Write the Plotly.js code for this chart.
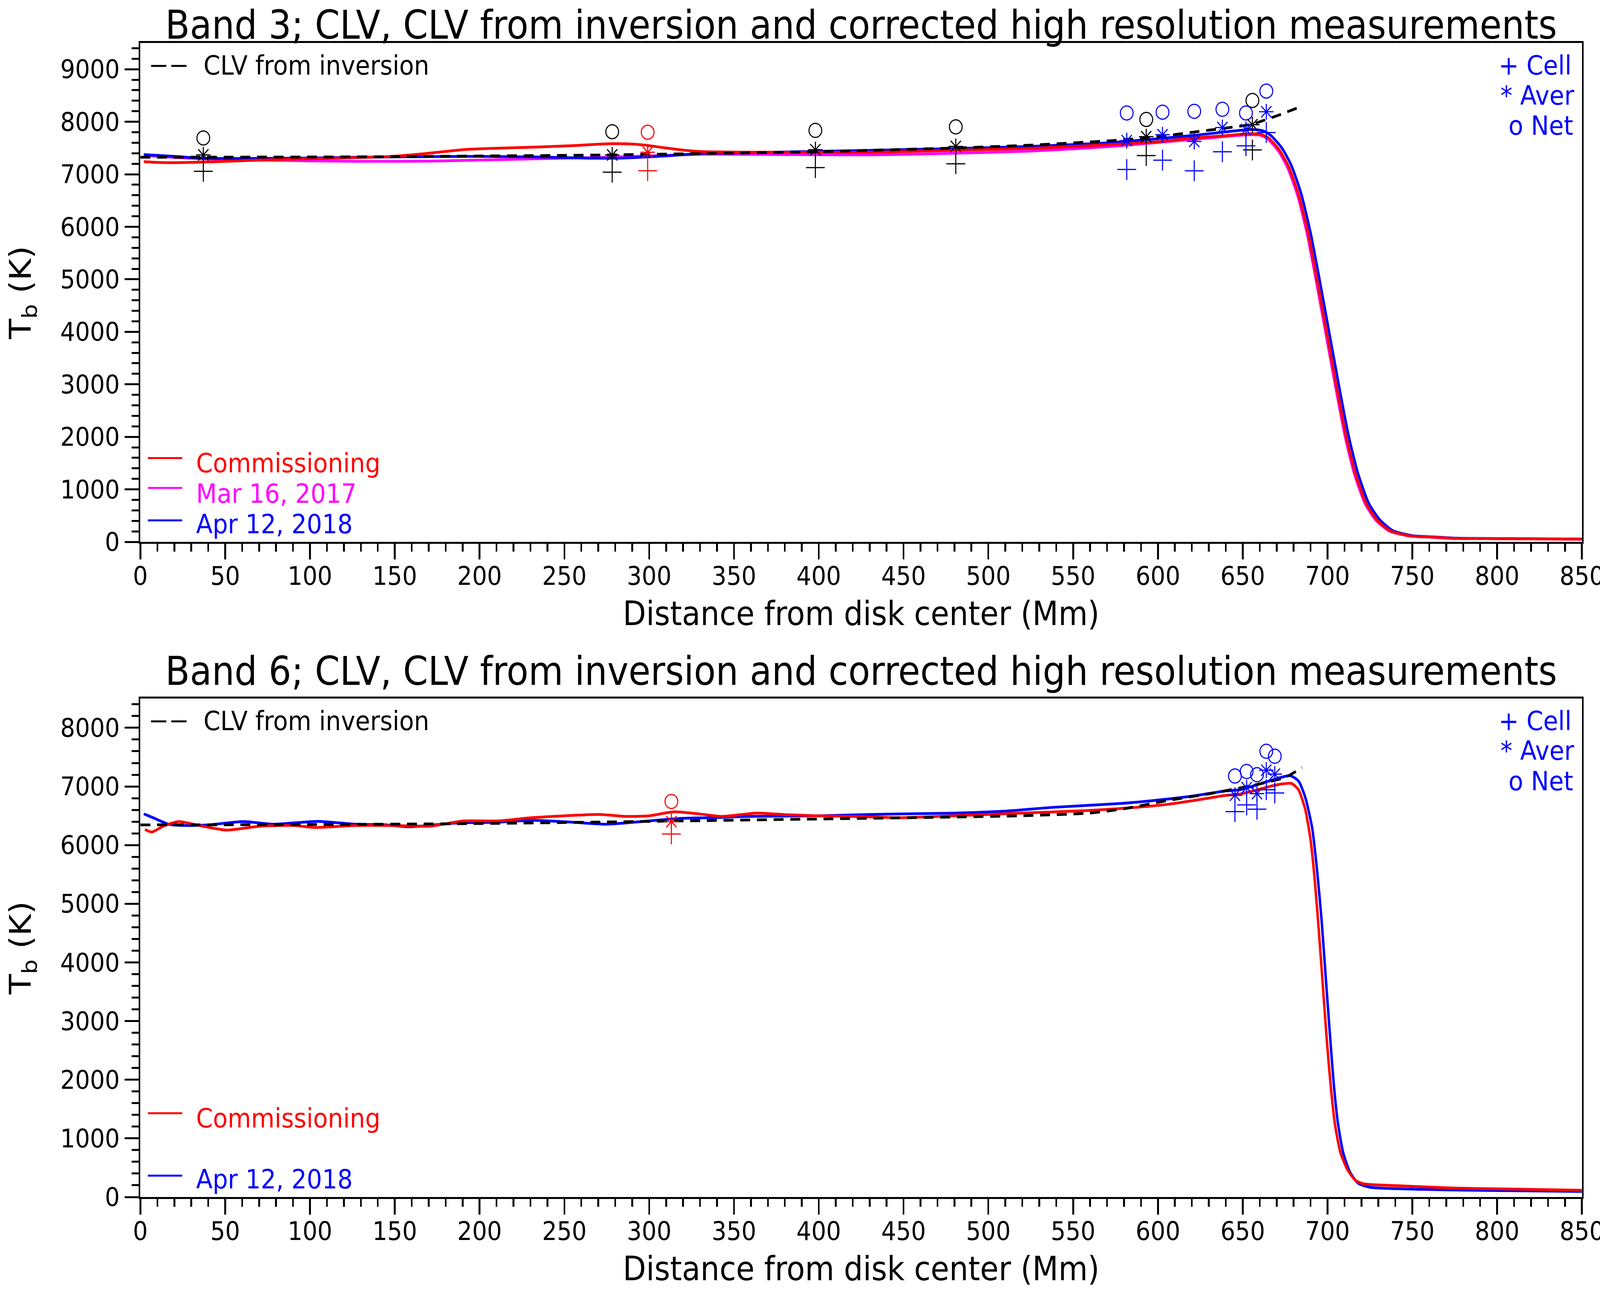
<!DOCTYPE html>
<html>
<head>
<meta charset="utf-8">
<script src="https://cdn.plot.ly/plotly-3.0.1.min.js"></script>
<style>html,body{margin:0;padding:0;background:#fff;overflow:hidden}</style>
</head>
<body>
<div id="chart" style="width:4513px;height:3302px;transform-origin:0 0"></div>
<script>
// ---- Band 3 (top panel) ----
var b3CommX = [2,10,20,37,50,84,120,148,170,190,210,233,255,276,290,297,310,318,331,360,400,429,477,525,573,600,621,640,653,660,665,671.6,677,682.8,688.4,694,699.6,705.2,710.8,716.4,722.8,729.2,737,749,761,774,800,850];
var b3CommY = [7240,7225,7220,7232,7245,7284,7310,7339,7400,7468,7495,7518,7545,7580,7575,7556,7500,7468,7431,7420,7418,7418,7455,7493,7567,7620,7691,7735,7770,7765,7697,7463,7150,6630,5896,4955,3966,2973,2034,1302,729,417,208,112,92,67,62,52];

var b3MarX = [2,20,37,70,127,170,200,233,276,331,380,429,480,525,573,621,653,660,664.5,671.1,676.5,682.3,687.9,693.5,699.1,704.7,710.3,715.9,722.3,728.7,736.5,748.5,760.5,773.5,800,850];
var b3MarY = [7360,7320,7294,7270,7245,7250,7270,7294,7324,7381,7375,7368,7400,7442,7530,7666,7752,7745,7680,7440,7120,6600,5870,4930,3940,2950,2010,1280,715,405,205,110,90,66,60,50];

var b3AprX = [2,20,37,60,100,127,170,200,233,265,285,310,331,380,429,480,525,573,621,655,662,666.5,673.1,678.5,684.3,689.9,695.5,701.1,706.7,712.3,717.9,724.3,730.7,738.5,750.5,762.5,775.5,800,850];
var b3AprY = [7374,7340,7306,7300,7310,7324,7335,7340,7330,7306,7310,7350,7396,7425,7455,7490,7530,7604,7740,7852,7827,7740,7500,7180,6650,5900,4960,3970,2980,2040,1310,735,425,212,115,95,70,64,54];

var b3InvX = [0,50,100,150,200,250,276,300,330,400,429,480,525,573,600,621,640,655,669,685];
var b3InvY = [7324,7326,7329,7335,7348,7360,7368,7380,7393,7430,7455,7500,7555,7641,7715,7803,7880,7951,8100,8299];

// high resolution measurements, band 3
var b3BlackX = [37.1,278.2,398,480.8,593.1,655.7];
var b3BlackNet = [7691,7810,7835,7902,8043,8405];
var b3BlackAver = [7368,7368,7468,7530,7716,7944];
var b3BlackCell = [7056,7039,7126,7200,7356,7463];

var b3RedX = [299.1];
var b3RedNet = [7801];
var b3RedAver = [7418];
var b3RedCell = [7068];

var b3BlueX = [581.6,602.7,621.4,638,651.9,663.9];
var b3BlueNet = [8167,8182,8199,8237,8167,8584];
var b3BlueAver = [7641,7753,7625,7889,7852,8190];
var b3BlueCell = [7091,7269,7066,7428,7542,7795];

// ---- Band 6 (bottom panel) ----
var b6CommX = [2.7,6.7,14,22.7,34.7,50.7,70.7,90.7,102.7,126.7,150,170.7,190.7,210.7,230.7,250,270.7,286.7,300,314.7,330,342.7,362.7,380,398.7,420,446.7,480,518.7,558.6,590,607,622.6,639.4,649.2,657.2,665.2,673,678.8,682.8,686.8,690,692.4,694.8,697.2,699.6,702,704.4,707.6,711.6,716.4,721.2,745,774,800,850];
var b6CommY = [6267,6223,6330,6401,6334,6256,6323,6334,6300,6334,6334,6323,6412,6412,6467,6500,6523,6489,6500,6567,6530,6489,6545,6520,6500,6490,6467,6500,6545,6589,6650,6700,6767,6845,6875,6931,6995,7042,7051,6948,6615,6089,5423,4566,3617,2665,1854,1235,759,473,286,226,189,153,140,115];

var b6AprX = [2,8,16.7,26.7,40,60.7,78.7,104.7,126.7,145,158.7,186.7,210,230.7,255,274.7,295,318.7,340,358.7,400,430.7,478.7,510,538.7,578.6,607,622.6,639.4,649,665,678,683,687,691,694,696.4,698.8,701.2,703.6,706,709.2,713.2,718,725,774,800,850];
var b6AprY = [6533,6460,6356,6334,6345,6401,6356,6405,6356,6345,6312,6378,6390,6423,6390,6356,6400,6456,6470,6489,6500,6523,6545,6580,6645,6711,6789,6845,6922,6948,7088,7184,7088,6802,6282,5518,4757,3804,2853,1952,1286,759,426,236,167,120,110,95];

var b6InvX = [0,100,199,279,319,399,479,519,559,580,607,631,660,675,685];
var b6InvY = [6345,6350,6367,6396,6412,6445,6478,6500,6545,6620,6767,6878,7044,7155,7320];

var b6RedX = [313.1];
var b6RedNet = [6744];
var b6RedAver = [6400];
var b6RedCell = [6190];

var b6BlueX = [645.4,652.3,658.4,663.9,668.9];
var b6BlueNet = [7178,7255,7200,7600,7515];
var b6BlueAver = [6851,6978,6878,7277,7211];
var b6BlueCell = [6571,6685,6612,6944,6889];

var RED = '#ff0000', MAG = '#ff00ff', BLUE = '#0000ff', BLACK = '#000000';
var FONT = 'DejaVu Sans';

function curve(x, y, color, xa, ya, dash) {
  return {
    type: 'scatter', mode: 'lines', x: x, y: y, xaxis: xa, yaxis: ya,
    line: {color: color, width: 7, dash: dash || 'solid', shape: 'spline', smoothing: 0.6},
    hoverinfo: 'skip'
  };
}

function syms(x, y, symbol, color, size, xa, ya) {
  return {
    type: 'scatter', mode: 'markers', x: x, y: y, xaxis: xa, yaxis: ya,
    marker: {symbol: symbol, size: size, color: color, line: {color: color, width: 3}},
    hoverinfo: 'skip'
  };
}

function measGroup(x, net, aver, cell, color, xa, ya) {
  return [
    syms(x, net, 'circle-open', color, 36, xa, ya),
    syms(x, aver, 'asterisk-open', color, 34, xa, ya),
    syms(x, cell, 'cross-thin-open', color, 38, xa, ya)
  ];
}

var data = [
  curve(b3MarX, b3MarY, MAG, 'x', 'y'),
  curve(b3AprX, b3AprY, BLUE, 'x', 'y'),
  curve(b3CommX, b3CommY, RED, 'x', 'y'),
  curve(b3InvX, b3InvY, BLACK, 'x', 'y', '28px,19px'),
  curve(b6AprX, b6AprY, BLUE, 'x2', 'y2'),
  curve(b6CommX, b6CommY, RED, 'x2', 'y2'),
  curve(b6InvX, b6InvY, BLACK, 'x2', 'y2', '28px,19px')
].concat(
  measGroup(b3BlackX, b3BlackNet, b3BlackAver, b3BlackCell, BLACK, 'x', 'y'),
  measGroup(b3RedX, b3RedNet, b3RedAver, b3RedCell, RED, 'x', 'y'),
  measGroup(b3BlueX, b3BlueNet, b3BlueAver, b3BlueCell, BLUE, 'x', 'y'),
  measGroup(b6RedX, b6RedNet, b6RedAver, b6RedCell, RED, 'x2', 'y2'),
  measGroup(b6BlueX, b6BlueNet, b6BlueAver, b6BlueCell, BLUE, 'x2', 'y2')
);

function xAxis(anchor) {
  return {
    anchor: anchor, domain: [0, 1], range: [0, 850],
    showgrid: false, zeroline: false,
    showline: true, linecolor: 'black', linewidth: 5, mirror: true,
    ticks: 'outside', ticklen: 40, tickwidth: 5, tickcolor: 'black',
    tick0: 0, dtick: 50, ticklabelstandoff: -14, ticklabeloverflow: 'allow',
    minor: {tick0: 0, dtick: 10, ticks: 'outside', ticklen: 20, tickwidth: 5, tickcolor: 'black', showgrid: false},
    tickfont: {family: FONT, size: 66, color: 'black'},
    title: {text: 'Distance from disk center (Mm)', font: {family: FONT, size: 85, color: 'black'}, standoff: 30},
    automargin: false
  };
}

function yAxis(anchor, domain, top) {
  return {
    anchor: anchor, domain: domain, range: [0, top],
    showgrid: false, zeroline: false,
    showline: true, linecolor: 'black', linewidth: 5, mirror: true,
    ticks: 'outside', ticklen: 40, tickwidth: 5, tickcolor: 'black',
    tick0: 0, dtick: 1000,
    minor: {tick0: 0, dtick: 200, ticks: 'outside', ticklen: 20, tickwidth: 5, tickcolor: 'black', showgrid: false},
    tickfont: {family: FONT, size: 66, color: 'black'},
    title: {text: 'T<sub>b</sub> (K)', font: {family: FONT, size: 85, color: 'black'}, standoff: 56},
    automargin: false
  };
}

var TITLE3 = 'Band 3; CLV, CLV from inversion and corrected high resolution measurements';
var TITLE6 = 'Band 6; CLV, CLV from inversion and corrected high resolution measurements';

function txt(xr, yr, x, y, text, color, anchor) {
  return {xref: xr, yref: yr, x: x, y: y, text: text, showarrow: false,
    xanchor: anchor || 'left', yanchor: 'middle',
    font: {family: FONT, size: 68, color: color}};
}

function seg(xr, yr, x0, x1, y, color, dash) {
  return {type: 'line', xref: xr, yref: yr, x0: x0, x1: x1, y0: y, y1: y,
    line: {color: color, width: 5, dash: dash || 'solid'}};
}

function panelNotes(xr, yr, withMar) {
  var a = [
    txt(xr, yr, 0.0433, 0.955, 'CLV from inversion', BLACK),
    txt(xr, yr, 0.9934, 0.955, '+ Cell', BLUE, 'right'),
    txt(xr, yr, 0.9951, 0.895, '* Aver', BLUE, 'right'),
    txt(xr, yr, 0.9946, 0.834, 'o Net', BLUE, 'right'),
    txt(xr, yr, 0.0381, 0.158, 'Commissioning', RED),
    txt(xr, yr, 0.0381, 0.036, 'Apr 12, 2018', BLUE)
  ];
  if (withMar) a.push(txt(xr, yr, 0.0381, 0.097, 'Mar 16, 2017', MAG));
  return a;
}

function panelLines(xr, yr, withMar) {
  var s = [
    seg(xr, yr, 0.0074, 0.032, 0.954, BLACK, '43px,14px'),
    seg(xr, yr, 0.0052, 0.029, 0.168, RED),
    seg(xr, yr, 0.0052, 0.029, 0.043, BLUE)
  ];
  if (withMar) s.push(seg(xr, yr, 0.0052, 0.029, 0.108, MAG));
  return s;
}

var layout = {
  width: 4513, height: 3302,
  margin: {l: 396, r: 51, t: 110, b: 238, pad: 0},
  paper_bgcolor: 'white', plot_bgcolor: 'white',
  showlegend: false,
  font: {family: FONT, size: 66, color: 'black'},
  xaxis: xAxis('y'),
  yaxis: yAxis('x', [0.5677, 1], 9500),
  xaxis2: xAxis('y2'),
  yaxis2: yAxis('x2', [0, 0.4320], 8500),
  annotations: [
    {xref: 'paper', yref: 'paper', x: 0.5, y: 1.0363, text: TITLE3, showarrow: false,
      xanchor: 'center', yanchor: 'top', font: {family: FONT, size: 101, color: 'black'}},
    {xref: 'paper', yref: 'paper', x: 0.5, y: 0.4557, text: TITLE6, showarrow: false,
      xanchor: 'center', yanchor: 'middle', font: {family: FONT, size: 101, color: 'black'}}
  ].concat(panelNotes('x domain', 'y domain', true), panelNotes('x2 domain', 'y2 domain', false)),
  shapes: panelLines('x domain', 'y domain', true).concat(panelLines('x2 domain', 'y2 domain', false))
};

// the window may be narrower than the 4513 px figure: squeeze it to fit
var sx = Math.min(1, window.innerWidth / 4513);
document.getElementById('chart').style.transform = 'scale(' + sx + ',1)';

Plotly.newPlot('chart', data, layout, {displayModeBar: false, staticPlot: true});
</script>
</body>
</html>
